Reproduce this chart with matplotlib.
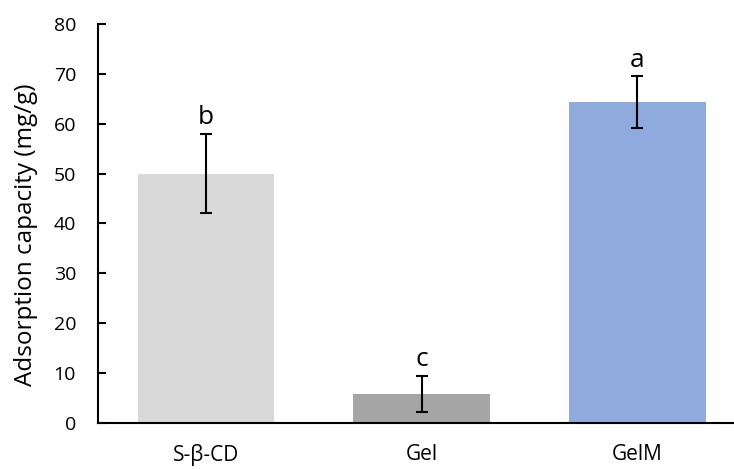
import numpy as np
import matplotlib
matplotlib.use('Agg')
import matplotlib.pyplot as plt

# Adsorption capacity per material, with standard deviation and significance letters
samples = ['S-β-CD', 'Gel', 'GelM']
capacity = [50.0, 5.75, 64.3]
capacity_sd = [8.0, 3.65, 5.2]
sig_letters = ['b', 'c', 'a']
bar_colors = ['#D9D9D9', '#A5A5A5', '#8FAADC']

plt.rcParams['font.family'] = ['Open Sans', 'DejaVu Sans']

fig = plt.figure(figsize=(7.34, 4.69), dpi=100)
ax = fig.add_axes([0.1339, 0.0987, 0.881, 0.850])

x = np.arange(len(samples))
ax.bar(x, capacity, width=0.635, color=bar_colors, zorder=2)
ax.errorbar(x, capacity, yerr=capacity_sd, fmt='none', ecolor='black',
            elinewidth=1.5, capsize=4, capthick=1.5, zorder=3)

for xi, val, sd, letter in zip(x, capacity, capacity_sd, sig_letters):
    ax.annotate(letter, (xi, val + sd), xytext=(0, 7), textcoords='offset points',
                ha='center', va='baseline', fontsize=19, color='black')

ax.set_xlim(-0.5, 2.5)
ax.set_ylim(0, 80)
ax.set_yticks(np.arange(0, 81, 10))
ax.set_xticks(x)
ax.set_xticklabels(samples, fontsize=15)
ax.tick_params(axis='x', length=0, pad=15)
ax.tick_params(axis='y', direction='in', length=5.5, width=1.5, labelsize=14, pad=16)
ax.set_ylabel('Adsorption capacity (mg/g)', fontsize=17.5)
ax.yaxis.set_label_coords(-0.093, 0.472)

ax.spines['top'].set_visible(False)
ax.spines['right'].set_visible(False)
ax.spines['left'].set_linewidth(1.5)
ax.spines['bottom'].set_linewidth(1.5)

fig.savefig('out.png', dpi=100)
